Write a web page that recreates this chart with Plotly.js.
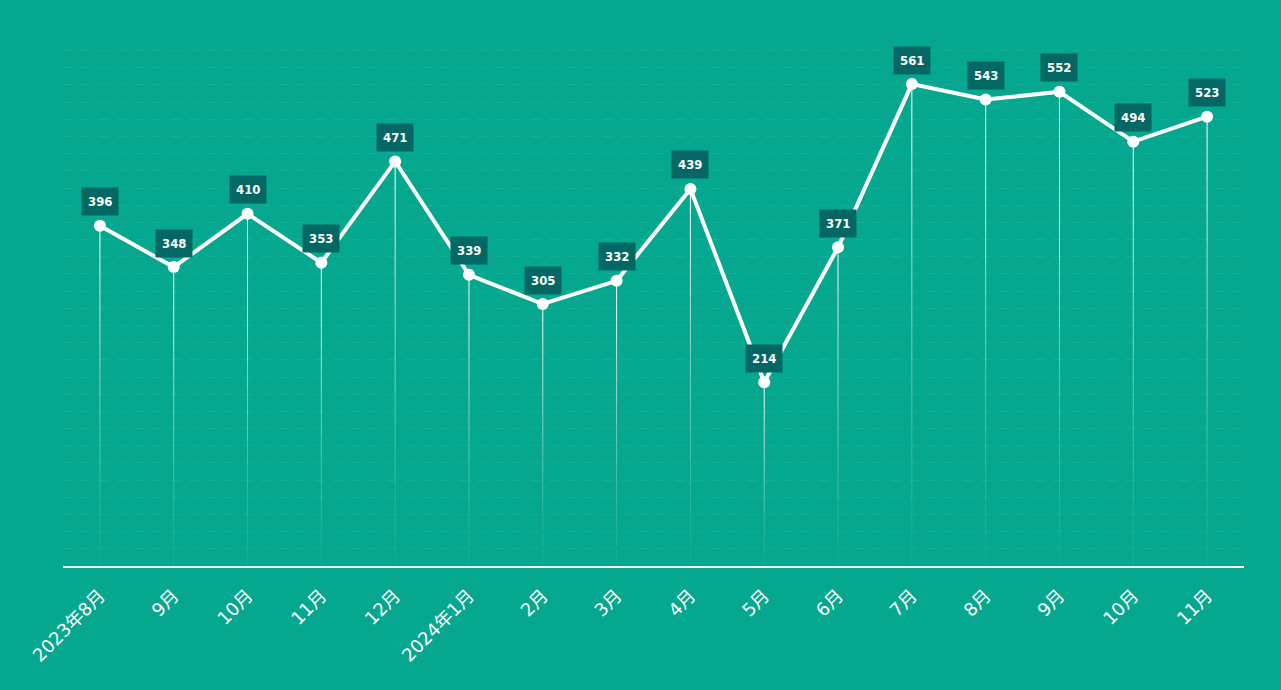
<!DOCTYPE html>
<html>
<head>
<meta charset="utf-8">
<script src="https://cdn.plot.ly/plotly-3.0.1.min.js"></script>
<style>
html,body{margin:0;padding:0;background:#05a88f;}
#chart{width:1281px;height:690px;}
</style>
</head>
<body>
<div id="chart"></div>
<script>
const categories = ["2023年8月","9月","10月","11月","12月","2024年1月","2月","3月","4月","5月","6月","7月","8月","9月","10月","11月"];
const values = [396,348,410,353,471,339,305,332,439,214,371,561,543,552,494,523];

const BG = "#05a88f";
const LABEL_BG = "#036763";
const xIdx = categories.map((c, i) => i);

const traces = [];
// fading drop lines: split each line into slices with decreasing opacity
const N = 14;
for (let k = 0; k < N; k++) {
  const xs = [], ys = [];
  xIdx.forEach((x, i) => {
    const v = values[i];
    const top = v * (1 - k / N);
    const bot = v * (1 - (k + 1) / N);
    xs.push(x, x, null);
    ys.push(top, bot, null);
  });
  const op = 0.95 * Math.pow(1 - k / N, 1.3) + 0.03;
  traces.push({
    type: "scatter", mode: "lines", x: xs, y: ys,
    line: {color: "rgba(255,255,255," + op.toFixed(3) + ")", width: 1},
    hoverinfo: "skip", showlegend: false
  });
}
traces.push({
  type: "scatter", mode: "lines+markers", x: xIdx, y: values,
  line: {color: "#ffffff", width: 4},
  marker: {color: "#ffffff", size: 12},
  showlegend: false
});

const annotations = xIdx.map((x, i) => ({
  x: x, y: values[i], xref: "x", yref: "y",
  text: "<b>" + values[i] + "</b>", showarrow: false,
  yshift: 24, bgcolor: LABEL_BG, borderpad: 6,
  font: {color: "#ffffff", size: 13, family: "DejaVu Sans Condensed, DejaVu Sans, sans-serif"}
}));

const layout = {
  width: 1281, height: 690,
  paper_bgcolor: BG, plot_bgcolor: BG,
  margin: {l: 63, r: 37, t: 42, b: 124},
  xaxis: {
    range: [-0.5, 15.5],
    tickmode: "array", tickvals: xIdx, ticktext: categories,
    showgrid: false, zeroline: false,
    showline: true, linecolor: "#ffffff", linewidth: 2,
    ticks: "", tickangle: -45, ticklabelstandoff: 10,
    tickfont: {color: "#ffffff", size: 18, family: "DejaVu Sans, Noto Sans CJK SC, sans-serif"}
  },
  yaxis: {
    range: [0, 610], tickmode: "linear", dtick: 20, tick0: 0,
    showticklabels: false, ticks: "",
    showgrid: true, gridcolor: "rgba(255,255,255,0.07)", griddash: "dash", gridwidth: 1,
    zeroline: false, showline: false
  },
  annotations: annotations,
  hovermode: false
};

Plotly.newPlot("chart", traces, layout, {displayModeBar: false, staticPlot: true});
</script>
</body>
</html>
